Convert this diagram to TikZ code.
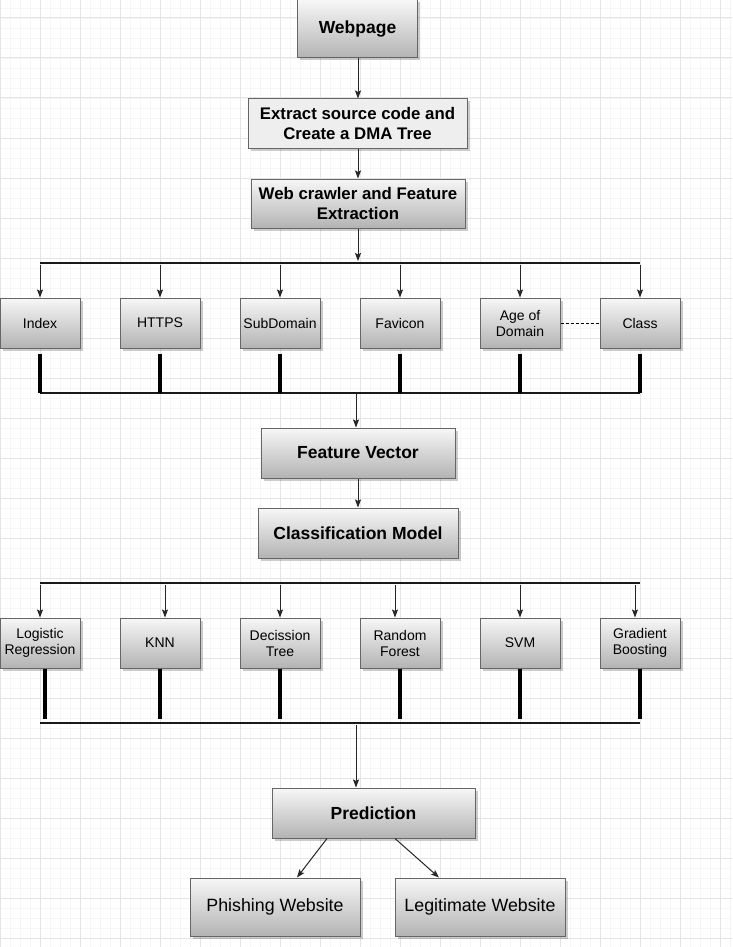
\documentclass[tikz,border=0pt]{standalone}
\usepackage{fontspec}
\setmainfont{Liberation Sans}
\usetikzlibrary{arrows.meta,shadows}

\definecolor{boxtop}{HTML}{F7F7F7}
\definecolor{boxbot}{HTML}{B3B3B3}
\definecolor{boxflat}{HTML}{EEEEEE}
\definecolor{boxline}{HTML}{666666}
\definecolor{gridmaj}{HTML}{E4E4E4}
\definecolor{gridmin}{HTML}{F6F6F6}

\tikzset{
  box/.style={rectangle,draw=boxline,line width=1pt,inner sep=0pt,align=center,
    minimum height=50pt,
    drop shadow={shadow xshift=2.5pt,shadow yshift=-2.5pt,opacity=0.2,fill=black}},
  shadebox/.style={box,top color=boxtop,bottom color=boxbot},
  headbox/.style={shadebox,font=\fontsize{17.5}{21}\selectfont\bfseries},
  subbox/.style={box,minimum height=49pt,font=\fontsize{16.8}{20}\selectfont\bfseries},
  featbox/.style={shadebox,minimum width=80pt,font=\fontsize{14}{16}\selectfont},
  sitebox/.style={shadebox,minimum width=170pt,minimum height=58pt,font=\fontsize{17.8}{21}\selectfont},
  link/.style={draw=black!85,line width=1pt,-{Stealth[length=8pt,width=6pt,inset=1.5pt]}},
  bus/.style={draw=black!90,line width=2pt},
  drop/.style={draw=black,line width=4pt},
}

\begin{document}
\begin{tikzpicture}[x=1pt,y=-1pt]
\useasboundingbox (0,0) rectangle (732,947);
\fill[white] (0,0) rectangle (732,947);

% grid
\foreach \x in {10,20,...,730} \draw[gridmin,line width=0.7pt] (\x,0) -- (\x,947);
\foreach \y in {8,18,...,938} \draw[gridmin,line width=0.7pt] (0,\y) -- (732,\y);
\foreach \x in {0,40,...,720} \draw[gridmaj,line width=1pt] (\x,0) -- (\x,947);
\foreach \y in {18,58,...,938} \draw[gridmaj,line width=1pt] (0,\y) -- (732,\y);

% top part
\node[headbox,minimum width=120pt,minimum height=58pt] (web) at (357.5,29) {Webpage};
\node[subbox,fill=boxflat,minimum width=219pt] (extract) at (357.5,123.5) {Extract source code and\\Create a DMA Tree};
\node[subbox,top color=boxtop,bottom color=boxbot,minimum width=214pt] (crawl) at (358,203.5) {Web crawler and Feature\\Extraction};
\draw[link] (web.south -| 358,0) -- (extract.north -| 358,0);
\draw[link] (extract.south -| 358,0) -- (crawl.north -| 358,0);

% features
\foreach \x/\name/\txt in {40/index/Index,160/https/HTTPS,280/subdom/SubDomain,
    400/favicon/Favicon,520/age/{Age of\\Domain},640/class/Class}
  \node[featbox] (\name) at (\x,323) {\txt};

\coordinate (fa) at (40,263);
\coordinate (fb) at (640,263);
\coordinate (fin) at (358,261);
\coordinate (fc) at (40,393);
\coordinate (fd) at (640,393);
\draw[bus] (fa) -- (fb);
\draw[bus] (fc) -- (fd);
\draw[link] (crawl.south -| fin) -- (fin);
\foreach \name in {index,https,subdom,favicon,age,class} {
  \draw[link] (\name.north |- fa) ++(0,2) -- (\name.north);
  \draw[drop] ([yshift=-5pt]\name.south) -- (\name.south |- fc);
}
\draw[dashed,dash pattern=on 3pt off 2pt,line width=0.8pt] (age.east) -- (class.west);

% middle part
\node[headbox,minimum width=194pt] (fvec) at (358,453) {Feature Vector};
\node[headbox,minimum width=200pt] (model) at (358,533) {Classification Model};
\coordinate (fout) at (356,394);
\draw[link] (fout) -- (fvec.north -| fout);
\draw[link] (fvec) -- (model);

% models
\foreach \x/\name/\txt in {40/logreg/{Logistic\\Regression},160/knn/KNN,280/dtree/{Decission\\Tree},
    400/rforest/{Random\\Forest},520/svm/SVM,640/gboost/{Gradient\\Boosting}}
  \node[featbox] (\name) at (\x,643) {\txt};

\coordinate (ma) at (40,583);
\coordinate (mb) at (640,583);
\coordinate (mc) at (40,723);
\coordinate (md) at (640,723);
\draw[bus] (ma) -- (mb);
\draw[bus] (mc) -- (md);
\foreach \name/\ax/\dx in {logreg/0/5,knn/5/0,dtree/0/0,rforest/-5/0,svm/0/0,gboost/-5/0} {
  \draw[link] ([xshift=\ax pt]\name.north |- ma) ++(0,2) -- ([xshift=\ax pt]\name.north);
  \draw[drop] ([xshift=\dx pt]\name.south) -- ++(0,50);
}

% result
\node[headbox,minimum width=203pt] (pred) at (373.5,813) {Prediction};
\node[sitebox] (phish) at (275,907) {Phishing Website};
\node[sitebox] (legit) at (480,907) {Legitimate Website};
\coordinate (mout) at (356,725);
\draw[link] (mout) -- (pred.north -| mout);
\draw[link] ([xshift=-46.5pt]pred.south) -- ([xshift=22pt]phish.north);
\draw[link] ([xshift=21.5pt]pred.south) -- ([xshift=-41pt]legit.north);
\end{tikzpicture}
\end{document}
